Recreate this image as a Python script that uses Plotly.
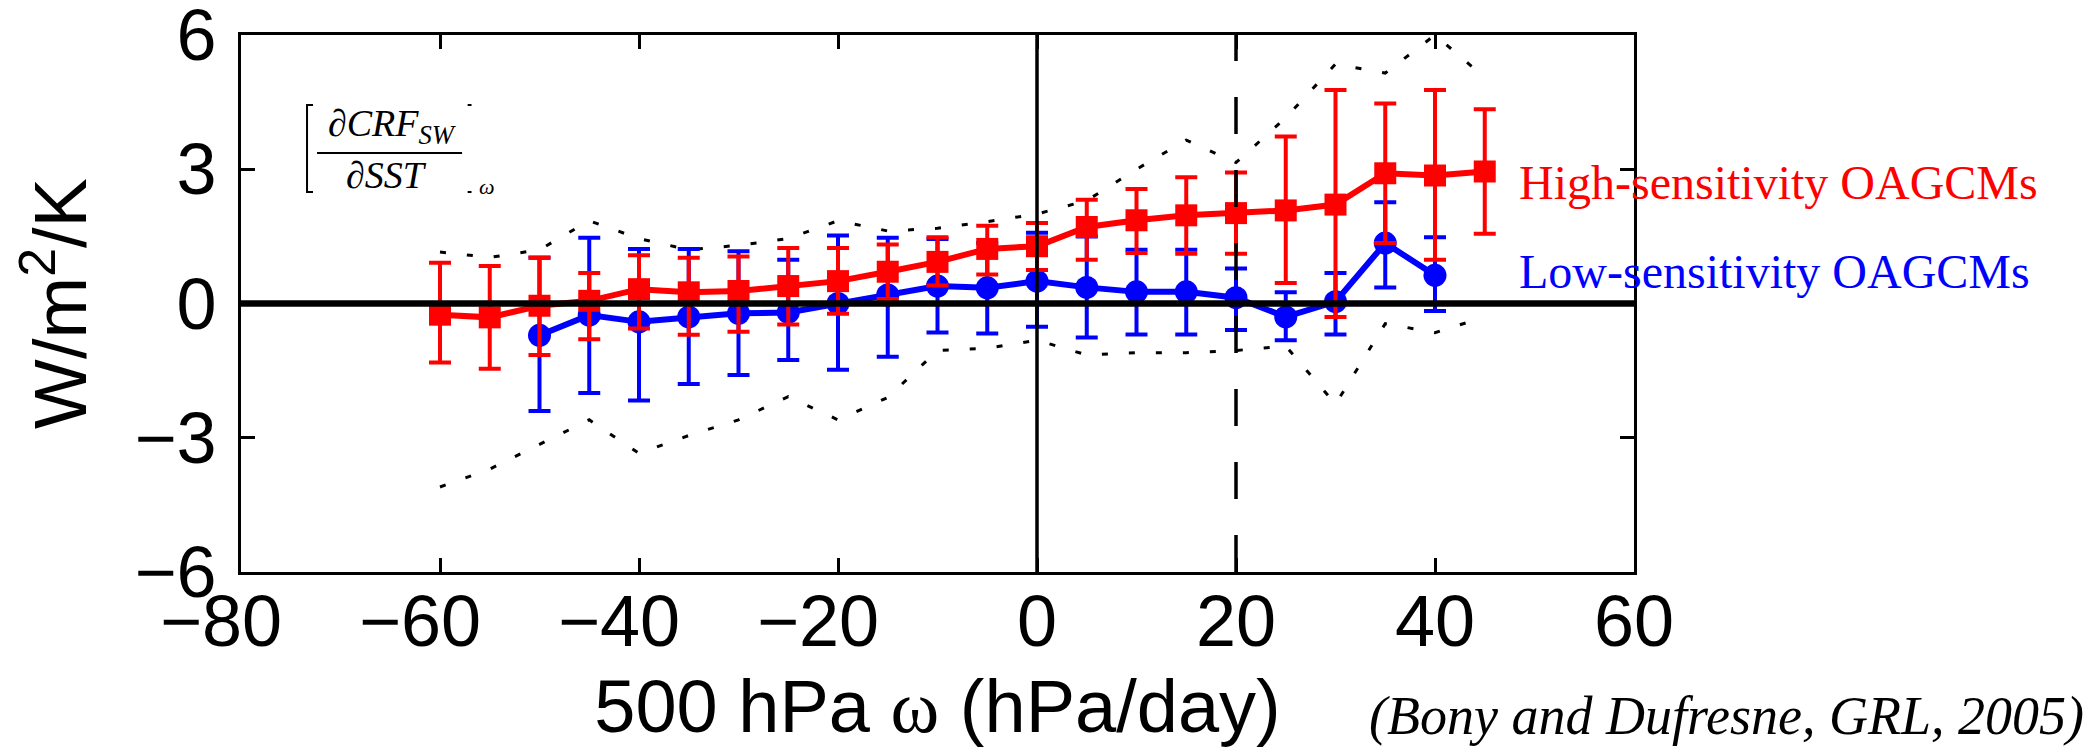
import plotly.graph_objects as go

# ---- data ----
x_high = [-60, -55, -50, -45, -40, -35, -30, -25, -20, -15, -10, -5, 0, 5, 10, 15, 20, 25, 30, 35, 40, 45]
high_mean = [-0.25, -0.31, -0.05, 0.06, 0.32, 0.25, 0.28, 0.39, 0.50, 0.71, 0.93, 1.22, 1.28,
             1.71, 1.86, 1.97, 2.02, 2.08, 2.21, 2.91, 2.86, 2.95]
high_upper = [0.91, 0.84, 1.03, 0.68, 1.08, 1.02, 1.05, 1.24, 1.24, 1.32, 1.48, 1.74, 1.80,
              2.32, 2.56, 2.82, 2.93, 3.73, 4.77, 4.47, 4.77, 4.34]
high_lower = [-1.32, -1.46, -1.15, -0.80, -0.56, -0.70, -0.63, -0.47, -0.23, 0.10, 0.40, 0.65, 0.75,
              0.98, 1.13, 1.11, 1.11, 0.46, -0.30, 1.35, 0.98, 1.56]

x_low = [-50, -45, -40, -35, -30, -25, -20, -15, -10, -5, 0, 5, 10, 15, 20, 25, 30, 35, 40]
low_mean = [-0.71, -0.26, -0.41, -0.30, -0.22, -0.20, 0.0, 0.19, 0.39, 0.35, 0.50, 0.36, 0.26,
            0.26, 0.13, -0.30, 0.04, 1.35, 0.63]
low_upper = [1.02, 1.47, 1.22, 1.22, 1.17, 0.98, 1.52, 1.47, 1.44, 1.35, 1.58, 1.50, 1.20,
             1.20, 0.78, 0.25, 0.68, 2.26, 1.48]
low_lower = [-2.40, -2.00, -2.17, -1.80, -1.60, -1.26, -1.48, -1.19, -0.65, -0.67, -0.52, -0.76, -0.69,
             -0.69, -0.59, -0.82, -0.69, 0.36, -0.17]

x_env = x_high
env_upper = [1.15, 1.03, 1.2, 1.85, 1.45, 1.2, 1.3, 1.45, 1.85, 1.62, 1.68, 1.83, 2.0,
             2.3, 3.0, 3.65, 3.15, 4.15, 5.35, 5.15, 6.0, 5.05]
env_lower = [-4.1, -3.7, -3.15, -2.6, -3.35, -2.95, -2.6, -2.08, -2.6, -2.1, -1.05, -1.0, -0.82,
             -1.15, -1.1, -1.1, -1.05, -0.95, -2.25, -0.45, -0.65, -0.3]

x_ticks = [-80, -60, -40, -20, 0, 20, 40, 60]
# negative labels sit slightly left of their tick in the original (digits centred)
x_ticklabels = ["\u221280\u00a0\u00a0", "\u221260\u00a0\u00a0", "\u221240\u00a0\u00a0",
                "\u221220\u00a0\u00a0", "0", "20", "40", "60"]
y_ticks = [-6, -3, 0, 3, 6]
y_ticklabels = ["\u22126", "\u22123", "0", "3", "6"]

RED = "#FF0000"
BLUE = "#0000FF"
SANS = "Liberation Sans, Arial, sans-serif"
SERIF = "Liberation Serif, Times New Roman, serif"

fig = go.Figure()

# envelopes (dotted)
for env in (env_upper, env_lower):
    fig.add_trace(go.Scatter(x=x_env, y=env, mode="lines",
                             line=dict(color="black", width=3, dash="6px,21px"),
                             showlegend=False, hoverinfo="skip"))

# low-sensitivity (blue)
fig.add_trace(go.Scatter(
    x=x_low, y=low_mean, mode="lines+markers",
    line=dict(color=BLUE, width=6),
    marker=dict(symbol="circle", size=23, color=BLUE),
    error_y=dict(type="data", symmetric=False,
                 array=[u - m for u, m in zip(low_upper, low_mean)],
                 arrayminus=[m - l for m, l in zip(low_mean, low_lower)],
                 color=BLUE, thickness=4, width=11),
    name="Low-sensitivity OAGCMs", showlegend=False))

# high-sensitivity (red)
fig.add_trace(go.Scatter(
    x=x_high, y=high_mean, mode="lines+markers",
    line=dict(color=RED, width=6),
    marker=dict(symbol="square", size=22, color=RED),
    error_y=dict(type="data", symmetric=False,
                 array=[u - m for u, m in zip(high_upper, high_mean)],
                 arrayminus=[m - l for m, l in zip(high_mean, high_lower)],
                 color=RED, thickness=4, width=11),
    name="High-sensitivity OAGCMs", showlegend=False))

shapes = [
    dict(type="line", xref="x", yref="y", x0=0, x1=0, y0=-6, y1=6,
         line=dict(color="black", width=3.5), layer="above"),
    dict(type="line", xref="x", yref="y", x0=20, x1=20, y0=-6, y1=6,
         line=dict(color="black", width=3.5, dash="37px,36px"), layer="above"),
    dict(type="line", xref="x", yref="y", x0=-80, x1=60, y0=0, y1=0,
         line=dict(color="black", width=6.5), layer="above"),
    # inset formula: fraction bar and brackets
    dict(type="line", xref="paper", yref="paper", x0=0.0546, x1=0.1587, y0=0.7803, y1=0.7803,
         line=dict(color="black", width=2)),
    dict(type="path", xref="paper", yref="paper",
         path="M 0.0517 0.8696 L 0.0474 0.8696 L 0.0474 0.7076 L 0.0517 0.7076",
         line=dict(color="black", width=2)),
    dict(type="line", xref="paper", yref="paper", x0=0.1627, x1=0.1655, y0=0.8696, y1=0.8696,
         line=dict(color="black", width=2)),
    dict(type="line", xref="paper", yref="paper", x0=0.1627, x1=0.1655, y0=0.7076, y1=0.7076,
         line=dict(color="black", width=2)),
]

annotations = [
    dict(text="High-sensitivity OAGCMs", xref="paper", yref="paper", x=0.916, y=0.726,
         xanchor="left", yanchor="middle", showarrow=False,
         font=dict(family=SERIF, size=48, color=RED)),
    dict(text="Low-sensitivity OAGCMs", xref="paper", yref="paper", x=0.916, y=0.559,
         xanchor="left", yanchor="middle", showarrow=False,
         font=dict(family=SERIF, size=48, color=BLUE)),
    dict(text="<i>(Bony and Dufresne, GRL, 2005)</i>", xref="paper", yref="paper",
         x=1.3245, y=-0.268, xanchor="right", yanchor="middle", showarrow=False,
         font=dict(family=SERIF, size=54, color="black")),
    dict(text="<i>∂CRF<sub>SW</sub></i>", xref="paper", yref="paper", x=0.1084, y=0.8305,
         xanchor="center", yanchor="middle", showarrow=False,
         font=dict(family=SERIF, size=38, color="black")),
    dict(text="<i>∂SST</i>", xref="paper", yref="paper", x=0.1041, y=0.7393,
         xanchor="center", yanchor="middle", showarrow=False,
         font=dict(family=SERIF, size=38, color="black")),
    dict(text="<i>ω</i>", xref="paper", yref="paper", x=0.1766, y=0.7188,
         xanchor="center", yanchor="middle", showarrow=False,
         font=dict(family=SERIF, size=22, color="black")),
]

axis_common = dict(showline=True, linecolor="black", linewidth=3, mirror="ticks",
                   ticks="inside", ticklen=14, tickwidth=3, tickcolor="black",
                   showgrid=False, zeroline=False, ticklabeloverflow="allow",
                   tickfont=dict(family=SANS, size=72, color="black"))

fig.update_layout(
    width=2092, height=748,
    margin=dict(l=241, r=458, t=35, b=176, autoexpand=False),
    paper_bgcolor="white", plot_bgcolor="white",
    showlegend=False,
    shapes=shapes, annotations=annotations,
    xaxis=dict(range=[-80, 60], tickmode="array", tickvals=x_ticks, ticktext=x_ticklabels,
               ticklabelstandoff=-15,
               title=dict(text="500 hPa <span style='font-family:Liberation Serif'>ω</span> (hPa/day)",
                          font=dict(family=SANS, size=74, color="black"), standoff=32),
               **axis_common),
    yaxis=dict(range=[-6, 6], tickmode="array", tickvals=y_ticks, ticktext=y_ticklabels,
               ticklabelstandoff=7,
               title=dict(text="W/m<sup>2</sup>/K",
                          font=dict(family=SANS, size=74, color="black"), standoff=24),
               **axis_common),
)

fig.write_html("out.html", config={"displayModeBar": False},
               post_script="document.body.style.margin='0';")
